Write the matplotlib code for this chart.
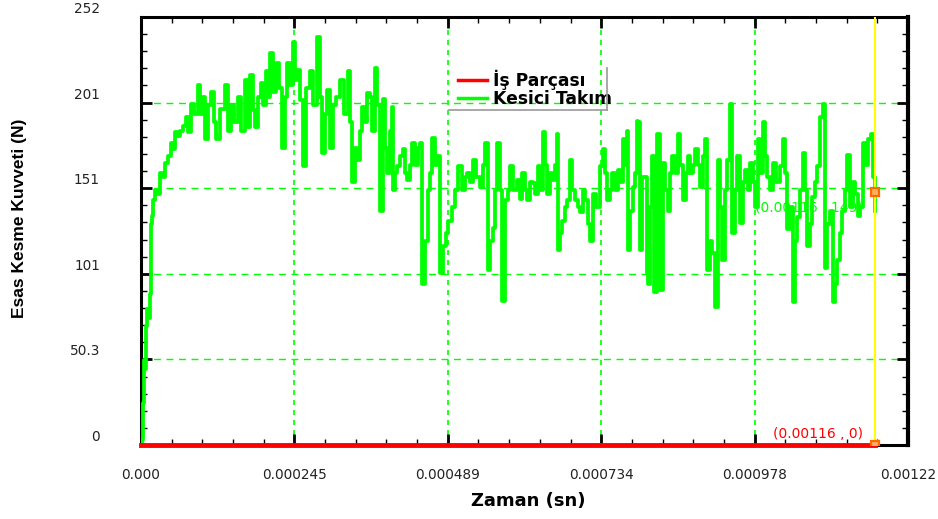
import numpy as np
import matplotlib
matplotlib.use("Agg")
import matplotlib.pyplot as plt
import matplotlib.transforms as mtrans
from matplotlib.ticker import AutoMinorLocator
from matplotlib.lines import Line2D

# ====== 数据 ======
# zaman (mikrosaniye), kesici takım kuvveti (N)
time_us = [
    0, 1.6, 3.2, 4.8, 6.4, 8.0, 9.6, 11.2, 14.3, 15.9,
    17.5, 19.1, 22.3, 25.5, 30.3, 35.1, 38.2, 43.0, 47.8, 51.0,
    54.2, 59.0, 62.1, 66.9, 71.7, 74.9, 79.7, 84.5, 90.8, 94.0,
    98.8, 102.0, 106.8, 111.5, 116.3, 119.5, 125.9, 133.9, 138.6, 143.4,
    148.2, 154.6, 159.4, 165.7, 170.5, 173.7, 178.5, 181.7, 186.4, 191.2,
    194.4, 199.2, 202.4, 205.6, 210.3, 215.1, 219.9, 224.7, 229.5, 232.7,
    237.4, 242.2, 245.4, 248.6, 253.4, 258.1, 262.9, 269.3, 274.1, 280.5,
    285.2, 288.4, 293.2, 296.4, 301.2, 306.0, 310.7, 317.1, 323.5, 329.9,
    333.0, 336.2, 341.0, 344.2, 349.0, 352.2, 356.9, 360.1, 364.9, 368.1,
    372.9, 376.1, 380.8, 385.6, 388.8, 392.0, 396.8, 400.0, 401.6, 404.7,
    407.9, 412.7, 417.5, 420.7, 423.9, 428.7, 431.8, 436.6, 441.4, 444.6,
    447.8, 452.6, 457.3, 460.5, 463.7, 468.5, 471.7, 476.5, 481.2, 486.0,
    489.2, 495.6, 500.4, 505.1, 511.5, 516.3, 519.5, 524.3, 529.0, 533.8,
    540.2, 545.0, 548.2, 553.0, 556.1, 560.9, 564.1, 567.3, 572.1, 575.3,
    580.0, 584.8, 588.0, 592.8, 599.2, 603.9, 607.1, 611.9, 615.1, 619.9,
    624.7, 627.8, 632.6, 635.8, 640.6, 643.8, 647.0, 651.7, 654.9, 659.7,
    662.9, 664.5, 667.7, 670.9, 675.6, 678.8, 683.6, 686.8, 691.6, 696.4,
    699.5, 704.3, 707.5, 712.3, 715.5, 720.3, 725.0, 731.4, 736.2, 739.4,
    742.6, 747.4, 750.5, 755.3, 760.1, 763.3, 768.1, 771.3, 774.4, 776.0,
    779.2, 784.0, 787.2, 790.4, 792.0, 795.2, 798.3, 803.1, 806.3, 807.9,
    811.1, 814.3, 817.5, 822.2, 827.0, 831.8, 835.0, 839.8, 843.0, 846.1,
    850.9, 855.7, 858.9, 863.7, 868.5, 871.6, 874.8, 879.6, 882.8, 887.6,
    890.8, 895.5, 898.7, 901.9, 906.7, 909.9, 914.7, 919.4, 922.6, 925.8,
    930.6, 933.8, 938.6, 941.8, 946.5, 949.7, 954.5, 959.3, 962.5, 967.2,
    970.4, 975.2, 978.4, 983.2, 986.4, 991.2, 994.3, 997.5, 1002.3, 1007.1,
    1011.9, 1018.2, 1023.0, 1026.2, 1029.4, 1034.2, 1039.0, 1042.1, 1045.3, 1050.1,
    1054.9, 1058.1, 1061.3, 1066.0, 1069.2, 1074.0, 1077.2, 1082.0, 1086.8, 1089.9,
    1093.1, 1097.9, 1102.7, 1105.9, 1109.1, 1113.9, 1117.0, 1121.8, 1125.0, 1129.8,
    1134.6, 1137.8, 1142.5, 1145.7, 1150.5, 1155.3, 1158.5, 1163.3, 1166.4, 1169.6,
]
force_tool = [
    0, 3, 25, 50, 45, 70, 80, 75, 89, 130,
    135, 144, 150, 148, 160, 158, 166, 170, 178, 174,
    184, 182, 185, 188, 193, 184, 201, 195, 212, 195,
    205, 180, 200, 208, 190, 180, 198, 212, 185, 200,
    190, 205, 185, 215, 187, 218, 197, 187, 205, 213,
    200, 220, 205, 231, 208, 225, 210, 175, 205, 225,
    212, 237, 215, 221, 203, 164, 210, 220, 200, 240,
    205, 172, 195, 209, 175, 200, 205, 215, 195, 220,
    190, 155, 175, 168, 185, 199, 190, 207, 205, 185,
    222, 200, 138, 204, 175, 160, 185, 199, 150, 160,
    164, 170, 174, 160, 156, 165, 178, 165, 175, 178,
    95, 120, 150, 160, 181, 165, 170, 101, 117, 125,
    132, 140, 150, 164, 150, 158, 160, 155, 168, 158,
    152, 165, 178, 103, 120, 128, 150, 178, 150, 85,
    144, 150, 164, 150, 156, 145, 160, 150, 144, 155,
    154, 148, 164, 150, 184, 165, 148, 160, 156, 165,
    183, 115, 125, 132, 140, 144, 168, 150, 144, 140,
    137, 150, 144, 130, 120, 148, 140, 164, 174, 160,
    144, 150, 160, 150, 162, 155, 180, 165, 185, 115,
    138, 152, 160, 191, 190, 115, 158, 158, 101, 95,
    140, 170, 90, 183, 91, 166, 150, 138, 160, 170,
    160, 183, 165, 144, 160, 170, 160, 165, 174, 165,
    152, 170, 180, 103, 120, 113, 81, 168, 140, 109,
    150, 168, 201, 125, 150, 170, 131, 155, 162, 150,
    166, 155, 140, 180, 160, 190, 170, 158, 150, 166,
    155, 164, 180, 160, 127, 140, 84, 120, 134, 150,
    172, 150, 117, 130, 146, 155, 164, 193, 201, 104,
    130, 138, 84, 95, 109, 125, 138, 150, 171, 140,
    155, 148, 135, 140, 178, 165, 180, 183, 158, 138,
]
assert len(time_us) == len(force_tool)

# iş parçası kuvveti: tüm süre boyunca 0
time_work_us = [0, 1169.6]
force_work = [0, 0]

# imleç (cursor) okuması
cursor_t = 0.00116961
cursor_tool = 149
cursor_work = 0

x_max = 0.0012225
y_max = 252
xtick_labels = ["0.000", "0.000245", "0.000489", "0.000734", "0.000978", "0.00122"]
ytick_labels = ["0", "50.3", "101", "151", "201", "252"]

t_tool = np.array(time_us) * 1e-6
t_work = np.array(time_work_us) * 1e-6

GREEN = "#00FF00"
RED = "#FF0000"

fig = plt.figure(figsize=(9.38, 5.19), dpi=100)
ax = fig.add_axes([141 / 938, 1 - 445 / 519, 767 / 938, 428 / 519])

ax.plot(t_tool, force_tool, color=GREEN, lw=2.7, drawstyle="steps-post",
        label="Kesici Takım", zorder=3)
ax.plot(t_work, force_work, color=RED, lw=3.5, label="İş Parçası",
        zorder=4, clip_on=False)

# imleç
ax.axvline(cursor_t, color="#FFFF00", lw=1.5, zorder=5)
ax.plot([cursor_t], [cursor_tool], marker="s", ms=6, mfc="#FFB060",
        mec="#FF6A00", mew=1.6, zorder=6)
ax.plot([cursor_t], [cursor_work], marker="s", ms=6, mfc="#FFB060",
        mec="#FF6A00", mew=1.6, zorder=6)
ax.annotate(f"(0.00116 , {cursor_work})", (cursor_t, cursor_work),
            xytext=(-12, 11), textcoords="offset pixels", ha="right", va="center",
            color=RED, fontsize=10, zorder=7)
ax.annotate(f"(0.00116 , {cursor_tool})", (cursor_t, cursor_tool),
            xytext=(-12, -16), textcoords="offset pixels", ha="right", va="center",
            color=GREEN, fontsize=10, zorder=2)

ax.set_xlim(0, x_max)
ax.set_ylim(0, y_max)
xt = np.linspace(0, x_max, len(xtick_labels))
yt = np.linspace(0, y_max, len(ytick_labels))
ax.set_xticks(xt)
ax.set_yticks(yt)
ax.set_xticklabels([])
ax.set_yticklabels([])
ax.xaxis.set_minor_locator(AutoMinorLocator(5))
ax.yaxis.set_minor_locator(AutoMinorLocator(5))
ax.tick_params(which="both", direction="in", top=True, right=True, color="black")
ax.tick_params(which="major", length=8, width=2)
ax.tick_params(which="minor", length=4.5, width=1)

for s in ["left", "top", "bottom"]:
    ax.spines[s].set_linewidth(2.2)
ax.spines["right"].set_linewidth(3)

# ızgara
for v in yt[1:-1]:
    ax.axhline(v, color=GREEN, lw=1, ls=(0, (5, 4)), zorder=1)
for v in xt[1:-1]:
    ax.axvline(v, color=GREEN, lw=1.2, ls=(0, (3, 3)), zorder=1)

# tick etiketleri
ytr = mtrans.blended_transform_factory(ax.transAxes, ax.transData) + \
    mtrans.ScaledTranslation(-0.41, 0.08, fig.dpi_scale_trans)
for v, lab in zip(yt, ytick_labels):
    ax.text(0, v, lab, transform=ytr, ha="right", va="center", fontsize=9.8,
            color="#222222")
xtr = mtrans.blended_transform_factory(ax.transData, ax.transAxes) + \
    mtrans.ScaledTranslation(0, -0.30, fig.dpi_scale_trans)
for v, lab in zip(xt, xtick_labels):
    ax.text(v, 0, lab, transform=xtr, ha="center", va="center", fontsize=9.8,
            color="#222222", clip_on=False)

fig.text(528 / 938, 1 - 501 / 519, "Zaman (sn)", ha="center", va="center",
         fontsize=13, fontweight="bold")
fig.text(20 / 938, 1 - 218 / 519, "Esas Kesme Kuvveti (N)", rotation=90,
         ha="center", va="center", fontsize=12.5, fontweight="bold",
         family=["Liberation Sans", "DejaVu Sans"])

# lejant
handles = [Line2D([], [], color=RED, lw=2.5), Line2D([], [], color=GREEN, lw=2.5)]
ax.legend(handles, ["İş Parçası", "Kesici Takım"], loc="upper left",
          bbox_to_anchor=(0.398, 0.905), frameon=False, handlelength=1.7,
          handletextpad=0.35, labelspacing=0.0, borderpad=0.2,
          prop={"weight": "bold", "size": 12.3})
fig.add_artist(Line2D([607 / 938, 607 / 938], [1 - 68 / 519, 1 - 110 / 519],
                      color="#999999", lw=1.2))
fig.add_artist(Line2D([449 / 938, 607 / 938], [1 - 110 / 519, 1 - 110 / 519],
                      color="#999999", lw=1.2))

fig.savefig("out.png", dpi=100)
